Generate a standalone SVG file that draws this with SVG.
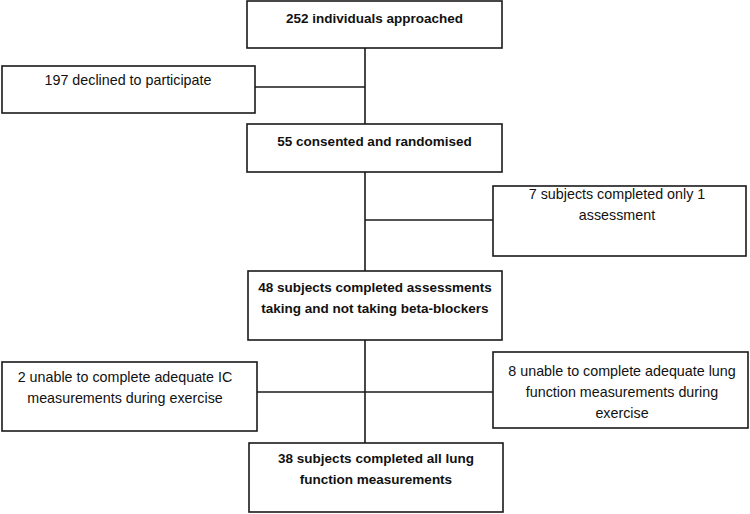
<svg xmlns="http://www.w3.org/2000/svg" width="750" height="514" viewBox="0 0 750 514">
<style>
.box{fill:#fff;stroke:#1a1a1a;stroke-width:1.6}
.ln{stroke:#1a1a1a;stroke-width:1.6;fill:none}
text{font-family:"Liberation Sans",Arial,sans-serif;font-size:14.3px;fill:#111;text-anchor:middle}
.b{font-weight:bold;font-size:13.5px}
</style>
<rect width="750" height="514" fill="#fff"/>
<g id="connectors">
<line class="ln" x1="365" y1="48" x2="365" y2="443"/>
<line class="ln" x1="255" y1="87" x2="365" y2="87"/>
<line class="ln" x1="365" y1="220" x2="493" y2="220"/>
<line class="ln" x1="257" y1="392" x2="493" y2="392"/>
</g>
<g id="n1">
<rect class="box" x="247" y="1" width="255" height="47"/>
<text class="b" x="374.5" y="23">252 individuals approached</text>
</g>
<g id="n2">
<rect class="box" x="2" y="66" width="253" height="47"/>
<text x="128" y="85">197 declined to participate</text>
</g>
<g id="n3">
<rect class="box" x="247" y="124" width="255" height="48"/>
<text class="b" x="374.5" y="146">55 consented and randomised</text>
</g>
<g id="n4">
<rect class="box" x="493" y="186" width="253" height="70"/>
<text x="617" y="199">7 subjects completed only 1</text>
<text x="617" y="220">assessment</text>
</g>
<g id="n5">
<rect class="box" x="248" y="271" width="254" height="69"/>
<text class="b" x="375" y="292">48 subjects completed assessments</text>
<text class="b" x="375" y="313">taking and not taking beta-blockers</text>
</g>
<g id="n6">
<rect class="box" x="2" y="362" width="255" height="69"/>
<text x="125" y="382">2 unable to complete adequate IC</text>
<text x="125" y="403">measurements during exercise</text>
</g>
<g id="n7">
<rect class="box" x="493" y="352" width="255" height="76"/>
<text x="622" y="376">8 unable to complete adequate lung</text>
<text x="622" y="397">function measurements during</text>
<text x="622" y="418">exercise</text>
</g>
<g id="n8">
<rect class="box" x="249" y="443" width="254" height="69"/>
<text class="b" x="376" y="463">38 subjects completed all lung</text>
<text class="b" x="376" y="484">function measurements</text>
</g>
</svg>
